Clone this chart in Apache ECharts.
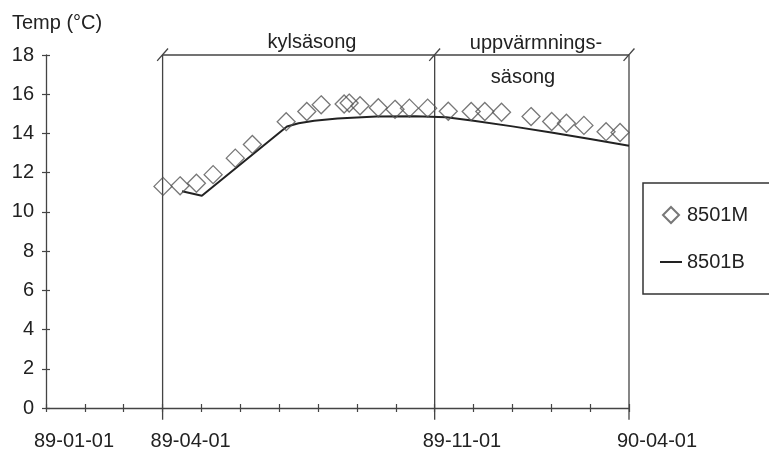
<!DOCTYPE html>
<html>
<head>
<meta charset="utf-8">
<script src="https://cdn.jsdelivr.net/npm/echarts@6/dist/echarts.min.js"></script>
<style>
html, body { margin: 0; padding: 0; background: #fff; }
#main { width: 769px; height: 456px; }
</style>
</head>
<body>
<div id="main"></div>
<script>
// x axis is in months counted from 89-01-01
var tickLabels = { 0: '89-01-01', 3: '89-04-01', 10: '89-11-01', 15: '90-04-01' };

// 8501M (measured, diamonds)
var mMonth = [3.01, 3.45, 3.87, 4.30, 4.87, 5.31, 6.18, 6.71, 7.08, 7.67, 7.80, 8.08, 8.55, 8.98,
              9.35, 9.82, 10.35, 10.94, 11.29, 11.72, 12.48, 13.01, 13.39, 13.84, 14.41, 14.77];
var mTemp = [11.3, 11.33, 11.46, 11.9, 12.74, 13.44, 14.6, 15.12, 15.46, 15.5, 15.55, 15.41, 15.31, 15.23,
             15.29, 15.29, 15.13, 15.12, 15.12, 15.08, 14.86, 14.61, 14.52, 14.41, 14.09, 14.05];

// 8501B (calculated, line)
var bMonth = [3.5, 4.01, 6.2, 6.5, 6.9, 7.5, 8.5, 9.5, 10.3, 11.0, 12.0, 13.0, 14.0, 15.0];
var bTemp = [11.05, 10.82, 14.35, 14.52, 14.65, 14.76, 14.86, 14.88, 14.82, 14.65, 14.36, 14.05, 13.72, 13.37];

// season dividers / bracket (in axis units)
var dividers = [3, 10, 15];

var myChart = echarts.init(document.getElementById('main'));

var font = 'Liberation Sans';
var ink = '#222';
var axisCol = '#444';

function zip(a, b) {
    var out = [];
    for (var i = 0; i < a.length; i++) out.push([a[i], b[i]]);
    return out;
}

// segments for the season brackets
var segs = [];
dividers.forEach(function (d) {
    segs.push([d, -0.6, d, 18]);                 // vertical divider
    segs.push([d - 0.14, 17.7, d + 0.14, 18.33]); // slash
});
segs.push([dividers[0], 18, dividers[dividers.length - 1], 18]); // top bracket

option = {
    animation: false,
    textStyle: { fontFamily: font, color: ink },
    grid: { left: 46, right: 140, top: 55, bottom: 48 },
    xAxis: [{
        type: 'value', min: 0, max: 15, interval: 1,
        axisLine: { show: true, lineStyle: { color: axisCol, width: 1.3 } },
        axisTick: { show: true, length: 4, lineStyle: { color: axisCol, width: 1.2 } },
        splitLine: { show: false },
        axisLabel: {
            margin: 23, fontSize: 20, color: ink, fontFamily: font,
            align: 'left', padding: [0, 0, 0, -12],
            formatter: function (v) { return tickLabels[v] || ''; }
        }
    }, {
        type: 'value', min: 0, max: 15, interval: 1, position: 'bottom',
        axisLine: { show: false },
        axisTick: { show: true, inside: true, length: 4, lineStyle: { color: axisCol, width: 1.2 } },
        splitLine: { show: false },
        axisLabel: { show: false }
    }],
    yAxis: [{
        type: 'value', min: 0, max: 18, interval: 2,
        axisLine: { show: true, lineStyle: { color: axisCol, width: 1.3 } },
        axisTick: { show: true, length: 4, lineStyle: { color: axisCol, width: 1.2 } },
        splitLine: { show: false },
        axisLabel: { margin: 12, fontSize: 20, color: ink, fontFamily: font }
    }, {
        type: 'value', min: 0, max: 18, interval: 2, position: 'left',
        axisLine: { show: false },
        axisTick: { show: true, inside: true, length: 4, lineStyle: { color: axisCol, width: 1.2 } },
        splitLine: { show: false },
        axisLabel: { show: false }
    }],
    legend: {
        orient: 'vertical',
        left: 643, top: 183,
        padding: [22, 60, 22, 17],
        itemGap: 27,
        itemWidth: 22, itemHeight: 16,
        borderColor: '#333', borderWidth: 1.5,
        textStyle: { fontSize: 20, color: ink, fontFamily: font },
        data: [
            { name: '8501M', icon: 'path://M8,0 L16,8 L8,16 L0,8 Z' },
            { name: '8501B', icon: 'path://M0,0 L22,0 L22,2 L0,2 Z' }
        ]
    },
    graphic: [
        { type: 'text', left: 12, top: 13, style: { text: 'Temp (°C)', font: '20px "Liberation Sans"', fill: ink } },
        { type: 'text', x: 312, y: 42, style: { text: 'kylsäsong', font: '20px "Liberation Sans"', fill: ink, align: 'center', verticalAlign: 'middle' } },
        { type: 'text', x: 536, y: 43, style: { text: 'uppvärmnings-', font: '20px "Liberation Sans"', fill: ink, align: 'center', verticalAlign: 'middle' } },
        { type: 'text', x: 523, y: 77, style: { text: 'säsong', font: '20px "Liberation Sans"', fill: ink, align: 'center', verticalAlign: 'middle' } }
    ],
    series: [{
        name: 'brackets',
        type: 'custom',
        silent: true,
        clip: false,
        data: segs,
        renderItem: function (params, api) {
            var p1 = api.coord([api.value(0), api.value(1)]);
            var p2 = api.coord([api.value(2), api.value(3)]);
            return {
                type: 'line',
                shape: { x1: p1[0], y1: p1[1], x2: p2[0], y2: p2[1] },
                style: { stroke: axisCol, lineWidth: 1.3 }
            };
        },
        z: 1
    }, {
        name: '8501B',
        type: 'line',
        data: zip(bMonth, bTemp),
        showSymbol: false,
        symbol: 'none',
        lineStyle: { color: '#222', width: 2 },
        itemStyle: { color: '#222' },
        z: 2
    }, {
        name: '8501M',
        type: 'scatter',
        data: zip(mMonth, mTemp),
        symbol: 'diamond',
        symbolSize: 18,
        itemStyle: { color: 'rgba(0,0,0,0)', borderColor: '#555', borderWidth: 1.3 },
        z: 3
    }]
};

myChart.setOption(option);
</script>
</body>
</html>
